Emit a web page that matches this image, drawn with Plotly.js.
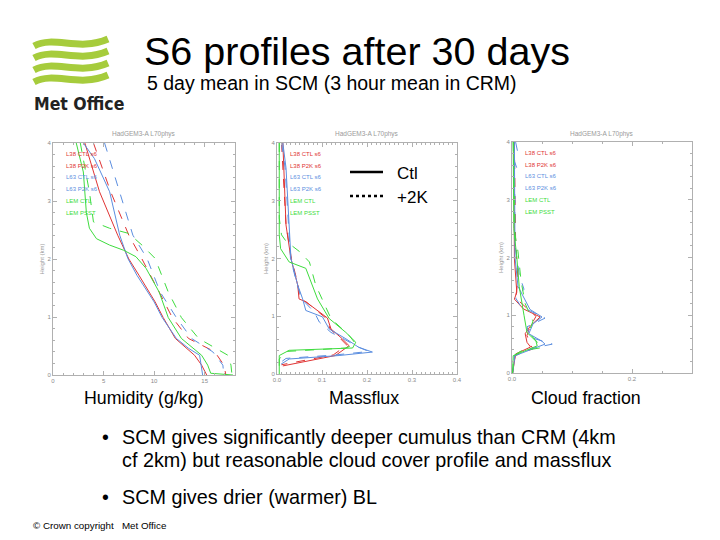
<!DOCTYPE html>
<html>
<head>
<meta charset="utf-8">
<script src="https://cdn.plot.ly/plotly-3.0.1.min.js"></script>
<style>html,body{margin:0;padding:0;background:#fff;}#chart{width:720px;height:540px;}</style>
</head>
<body>
<div id="chart"></div>
<script>
// ---------- DATA ----------
const seriesNames = ["L38 CTL s6", "L38 P2K s6", "L63 CTL s6", "L63 P2K s6", "LEM CTL", "LEM PSST"];

// Humidity (g/kg) vs height (km)
const hum_L38CTL_q = [3.15, 4.6, 6.4, 7.5, 8.5, 10.1, 10.9, 12.1, 14.0, 14.7, 15.2];
const hum_L38CTL_h = [4.0, 3.16, 2.41, 2.0, 1.72, 1.26, 0.99, 0.63, 0.34, 0.17, 0.0];
const hum_L38P2K_q = [4.0, 5.7, 7.5, 8.8, 10.5, 11.8, 13.4, 16.0, 16.9, 17.1];
const hum_L38P2K_h = [4.0, 3.16, 2.41, 2.0, 1.43, 0.99, 0.63, 0.40, 0.17, 0.0];
const hum_L63CTL_q = [3.0, 4.1, 5.6, 6.6, 7.4, 8.3, 10.0, 10.8, 12.2, 13.4, 14.5, 14.8];
const hum_L63CTL_h = [4.0, 3.73, 3.16, 2.41, 2.01, 1.72, 1.26, 0.99, 0.63, 0.46, 0.34, 0.0];
const hum_L63P2K_q = [5.1, 6.6, 7.9, 9.3, 10.6, 12.2, 13.7, 15.8, 16.8, 16.9];
const hum_L63P2K_h = [4.0, 3.16, 2.41, 2.01, 1.43, 0.99, 0.63, 0.40, 0.17, 0.0];
const hum_LEMCTL_q = [2.3, 3.0, 3.3, 3.6, 4.3, 5.6, 7.0, 8.2, 9.2, 10.5, 11.4, 12.7, 14.7, 15.3, 15.6, 17.8];
const hum_LEMCTL_h = [4.0, 3.5, 2.8, 2.53, 2.35, 2.24, 2.15, 2.04, 1.84, 1.43, 0.99, 0.63, 0.34, 0.17, 0.03, 0.0];
const hum_LEMPSST_q = [2.7, 3.6, 4.0, 5.6, 7.5, 8.8, 10.1, 11.4, 12.7, 14.4, 17.3, 17.6, 17.7];
const hum_LEMPSST_h = [4.0, 3.16, 2.64, 2.53, 2.44, 2.24, 2.01, 1.43, 0.99, 0.63, 0.34, 0.17, 0.0];

// Massflux vs height (km)
const mf_L38CTL_v = [0.013, 0.02, 0.031, 0.046, 0.049, 0.064, 0.112, 0.12, 0.145, 0.16, 0.13, 0.013];
const mf_L38CTL_h = [4.0, 2.58, 2.0, 1.54, 1.30, 1.25, 0.97, 0.78, 0.61, 0.49, 0.32, 0.14];
const mf_L38P2K_v = [0.01, 0.02, 0.032, 0.047, 0.05, 0.066, 0.11, 0.118, 0.14, 0.155, 0.125, 0.01];
const mf_L38P2K_h = [4.0, 2.58, 2.0, 1.54, 1.32, 1.24, 0.96, 0.78, 0.62, 0.50, 0.33, 0.16];
const mf_L63CTL_v = [0.013, 0.02, 0.031, 0.046, 0.057, 0.064, 0.101, 0.116, 0.153, 0.182, 0.212, 0.138, 0.027, 0.009];
const mf_L63CTL_h = [4.0, 3.57, 2.0, 1.54, 1.30, 1.10, 0.99, 0.78, 0.61, 0.46, 0.38, 0.32, 0.26, 0.17];
const mf_L63P2K_v = [0.01, 0.018, 0.03, 0.045, 0.055, 0.083, 0.094, 0.12, 0.15, 0.18, 0.204, 0.13, 0.02, 0.008];
const mf_L63P2K_h = [4.0, 3.57, 2.0, 1.54, 1.30, 1.07, 0.90, 0.72, 0.60, 0.47, 0.39, 0.33, 0.27, 0.20];
const mf_LEMCTL_v = [0.005, 0.005, 0.008, 0.027, 0.064, 0.075, 0.09, 0.116, 0.153, 0.175, 0.168, 0.027, 0.005, 0.005];
const mf_LEMCTL_h = [4.0, 2.41, 2.17, 1.94, 1.83, 1.59, 1.30, 0.96, 0.72, 0.55, 0.45, 0.41, 0.32, 0.0];
const mf_LEMPSST_v = [0.005, 0.005, 0.01, 0.02, 0.05, 0.072, 0.086, 0.12, 0.16, 0.175, 0.153, 0.02, 0.005, 0.005];
const mf_LEMPSST_h = [4.0, 2.7, 2.41, 2.3, 2.12, 1.94, 1.54, 0.96, 0.67, 0.52, 0.45, 0.39, 0.26, 0.0];

// Cloud fraction vs height (km)
const cf_L38CTL_v = [0.003, 0.004, 0.008, 0.004, 0.019, 0.047, 0.031, 0.022, 0.025, 0.031, 0.006, 0.001];
const cf_L38CTL_h = [4.0, 1.98, 1.40, 1.28, 1.11, 0.97, 0.82, 0.68, 0.53, 0.45, 0.33, 0.0];
const cf_L38P2K_v = [0.004, 0.006, 0.01, 0.006, 0.025, 0.04, 0.03, 0.025, 0.03, 0.035, 0.005, 0.001];
const cf_L38P2K_h = [4.0, 2.3, 1.6, 1.3, 1.12, 0.98, 0.8, 0.65, 0.5, 0.42, 0.3, 0.0];
const cf_L63CTL_v = [0.004, 0.005, 0.01, 0.02, 0.03, 0.05, 0.035, 0.028, 0.05, 0.055, 0.035, 0.005, 0.001];
const cf_L63CTL_h = [4.0, 2.0, 1.5, 1.3, 1.1, 0.97, 0.85, 0.68, 0.55, 0.5, 0.42, 0.3, 0.0];
const cf_L63P2K_v = [0.006, 0.009, 0.003, 0.008, 0.003, 0.005, 0.004, 0.012, 0.02, 0.006, 0.015, 0.055, 0.025, 0.03, 0.067, 0.035, 0.004, 0.001];
const cf_L63P2K_h = [4.0, 3.85, 3.7, 3.55, 3.4, 3.0, 2.3, 1.7, 1.45, 1.3, 1.15, 0.95, 0.8, 0.62, 0.5, 0.43, 0.3, 0.0];
const cf_LEMCTL_v = [0.002, 0.003, 0.008, 0.012, 0.02, 0.025, 0.04, 0.042, 0.03, 0.01, 0.002, 0.001];
const cf_LEMCTL_h = [4.0, 2.5, 2.0, 1.5, 1.0, 0.7, 0.55, 0.47, 0.42, 0.33, 0.3, 0.0];
const cf_LEMPSST_v = [0.002, 0.005, 0.01, 0.015, 0.022, 0.035, 0.028, 0.045, 0.05, 0.015, 0.003, 0.001];
const cf_LEMPSST_h = [4.0, 2.4, 2.1, 1.6, 1.2, 0.9, 0.7, 0.5, 0.44, 0.38, 0.3, 0.0];

const panelTitle = "HadGEM3-A L70phys";
const heightTicks = [0, 1, 2, 3, 4];

// ---------- STYLE ----------
const RED = "#e03434", BLUE = "#5b8ee0", GREEN = "#3edc3e";
const seriesColors = [RED, RED, BLUE, BLUE, GREEN, GREEN];
const seriesDash = ["solid", "dash", "solid", "dash", "solid", "dash"];
const FONT = "Liberation Sans, Arial, sans-serif";

const W = 720, H = 540;
const px = x => x / W;
const py = y => 1 - y / H;

const panels = [
  {xs: [hum_L38CTL_q, hum_L38P2K_q, hum_L63CTL_q, hum_L63P2K_q, hum_LEMCTL_q, hum_LEMPSST_q],
   hs: [hum_L38CTL_h, hum_L38P2K_h, hum_L63CTL_h, hum_L63P2K_h, hum_LEMCTL_h, hum_LEMPSST_h],
   left: 53, right: 235, top: 143, bottom: 375, range: [0, 18], dtick: 5, minor: 1, fmt: "d"},
  {xs: [mf_L38CTL_v, mf_L38P2K_v, mf_L63CTL_v, mf_L63P2K_v, mf_LEMCTL_v, mf_LEMPSST_v],
   hs: [mf_L38CTL_h, mf_L38P2K_h, mf_L63CTL_h, mf_L63P2K_h, mf_LEMCTL_h, mf_LEMPSST_h],
   left: 277, right: 457, top: 143, bottom: 374, range: [0, 0.4], dtick: 0.1, minor: 0.01, fmt: ".1f"},
  {xs: [cf_L38CTL_v, cf_L38P2K_v, cf_L63CTL_v, cf_L63P2K_v, cf_LEMCTL_v, cf_LEMPSST_v],
   hs: [cf_L38CTL_h, cf_L38P2K_h, cf_L63CTL_h, cf_L63P2K_h, cf_LEMCTL_h, cf_LEMPSST_h],
   left: 512, right: 692, top: 142, bottom: 373, range: [0, 0.3], dtick: 0.2, minor: 0.05, fmt: ".1f"}
];

const data = [];
const layout = {
  width: W, height: H,
  margin: {l: 0, r: 0, t: 0, b: 0},
  paper_bgcolor: "#fff", plot_bgcolor: "#fff",
  showlegend: false,
  font: {family: FONT, color: "#000"},
  annotations: [], shapes: []
};

const axisCommon = {
  showgrid: false, zeroline: false, showline: true, linecolor: "#b0b0b0", linewidth: 1,
  mirror: "ticks", ticks: "inside", ticklen: 4, tickcolor: "#b0b0b0", tickwidth: 1,
  tickfont: {size: 6, color: "#8a8a8a", family: FONT}, fixedrange: true
};

panels.forEach((p, i) => {
  const n = i + 1;
  const xa = "xaxis" + (n === 1 ? "" : n), ya = "yaxis" + (n === 1 ? "" : n);
  const xr = "x" + (n === 1 ? "" : n), yr = "y" + (n === 1 ? "" : n);
  layout[xa] = Object.assign({}, axisCommon, {
    domain: [px(p.left), px(p.right)], anchor: yr, range: p.range,
    tick0: 0, dtick: p.dtick, tickformat: p.fmt,
    minor: {dtick: p.minor, ticks: "inside", ticklen: 2, tickcolor: "#b0b0b0", showgrid: false}
  });
  layout[ya] = Object.assign({}, axisCommon, {
    domain: [py(p.bottom), py(p.top)], anchor: xr, range: [0, 4],
    tickvals: heightTicks, ticktext: heightTicks.map(String),
    minor: {dtick: 0.2, ticks: "inside", ticklen: 2, tickcolor: "#b0b0b0", showgrid: false},
    title: {text: "Height (km)", font: {size: 6, color: "#9a9a9a", family: FONT}, standoff: 2}
  });
  p.xs.forEach((xv, k) => {
    data.push({
      type: "scatter", mode: "lines", x: xv, y: p.hs[k], xaxis: xr, yaxis: yr,
      line: {color: seriesColors[k], width: 1, dash: seriesDash[k]}, hoverinfo: "skip",
      name: seriesNames[k]
    });
  });
  seriesNames.forEach((s, k) => {
    layout.annotations.push({
      xref: xr + " domain", yref: yr + " domain", x: 0.06, y: 1 - (11 + k * 11.7) / (p.bottom - p.top),
      xanchor: "left", yanchor: "middle", text: s, showarrow: false,
      font: {size: 6, color: seriesColors[k], family: FONT}
    });
  });
  layout.annotations.push({
    xref: xr + " domain", yref: "paper", x: 0.5, y: py(134), xanchor: "center", yanchor: "middle",
    text: panelTitle, showarrow: false, font: {size: 6.5, color: "#9a9a9a", family: FONT}
  });
});

function ann(text, x, y, size, opts) {
  layout.annotations.push(Object.assign({
    xref: "paper", yref: "paper", x: px(x), y: py(y), xanchor: "left", yanchor: "middle",
    text: text, showarrow: false, font: {size: size, color: "#000", family: FONT}
  }, opts || {}));
}

// Titles
ann("S6 profiles after 30 days", 142, 51, 39.5);
ann("5 day mean in SCM (3 hour mean in CRM)", 145, 83, 19.5);
ann("<b>Met Office</b>", 32, 104, 17.5, {font: {size: 17.5, color: "#222", family: "DejaVu Sans Condensed, Liberation Sans Narrow, Liberation Sans, sans-serif"}});

// Ctl / +2K key
layout.shapes.push({type: "line", xref: "paper", yref: "paper", x0: px(350), x1: px(383), y0: py(172), y1: py(172), line: {color: "#000", width: 2.5}});
layout.shapes.push({type: "line", xref: "paper", yref: "paper", x0: px(350), x1: px(383), y0: py(196), y1: py(196), line: {color: "#000", width: 2.5, dash: "dot"}});
ann("Ctl", 395, 174, 17);
ann("+2K", 395, 197, 17);

// Panel labels
ann("Humidity (g/kg)", 82, 398, 17.8);
ann("Massflux", 327, 398, 17.8);
ann("Cloud fraction", 529, 398, 17.8);

// Bullets
ann("•", 100, 437, 19.5);
ann("SCM gives significantly deeper cumulus than CRM (4km", 120, 437, 19.8);
ann("cf 2km) but reasonable cloud cover profile and massflux", 120, 460, 19.8);
ann("•", 100, 497, 19.5);
ann("SCM gives drier (warmer) BL", 120, 497, 19.8);
ann("© Crown copyright   Met Office", 31, 525, 9.8);

// Met Office wave logo (decorative)
const LOGO = "#a6cc3c";
const bandY = [42, 54, 66, 78];
bandY.forEach(y => {
  const pts = [[34, y + 4], [55, y - 7], [78, y + 10], [108, y - 3]];
  const path = "M" + px(pts[0][0]) + "," + py(pts[0][1]) +
    " C" + px(pts[1][0]) + "," + py(pts[1][1]) + " " + px(pts[2][0]) + "," + py(pts[2][1]) + " " + px(pts[3][0]) + "," + py(pts[3][1]);
  layout.shapes.push({type: "path", xref: "paper", yref: "paper", path: path, line: {color: LOGO, width: 7}});
});

Plotly.newPlot("chart", data, layout, {displayModeBar: false, staticPlot: true});
</script>
</body>
</html>
